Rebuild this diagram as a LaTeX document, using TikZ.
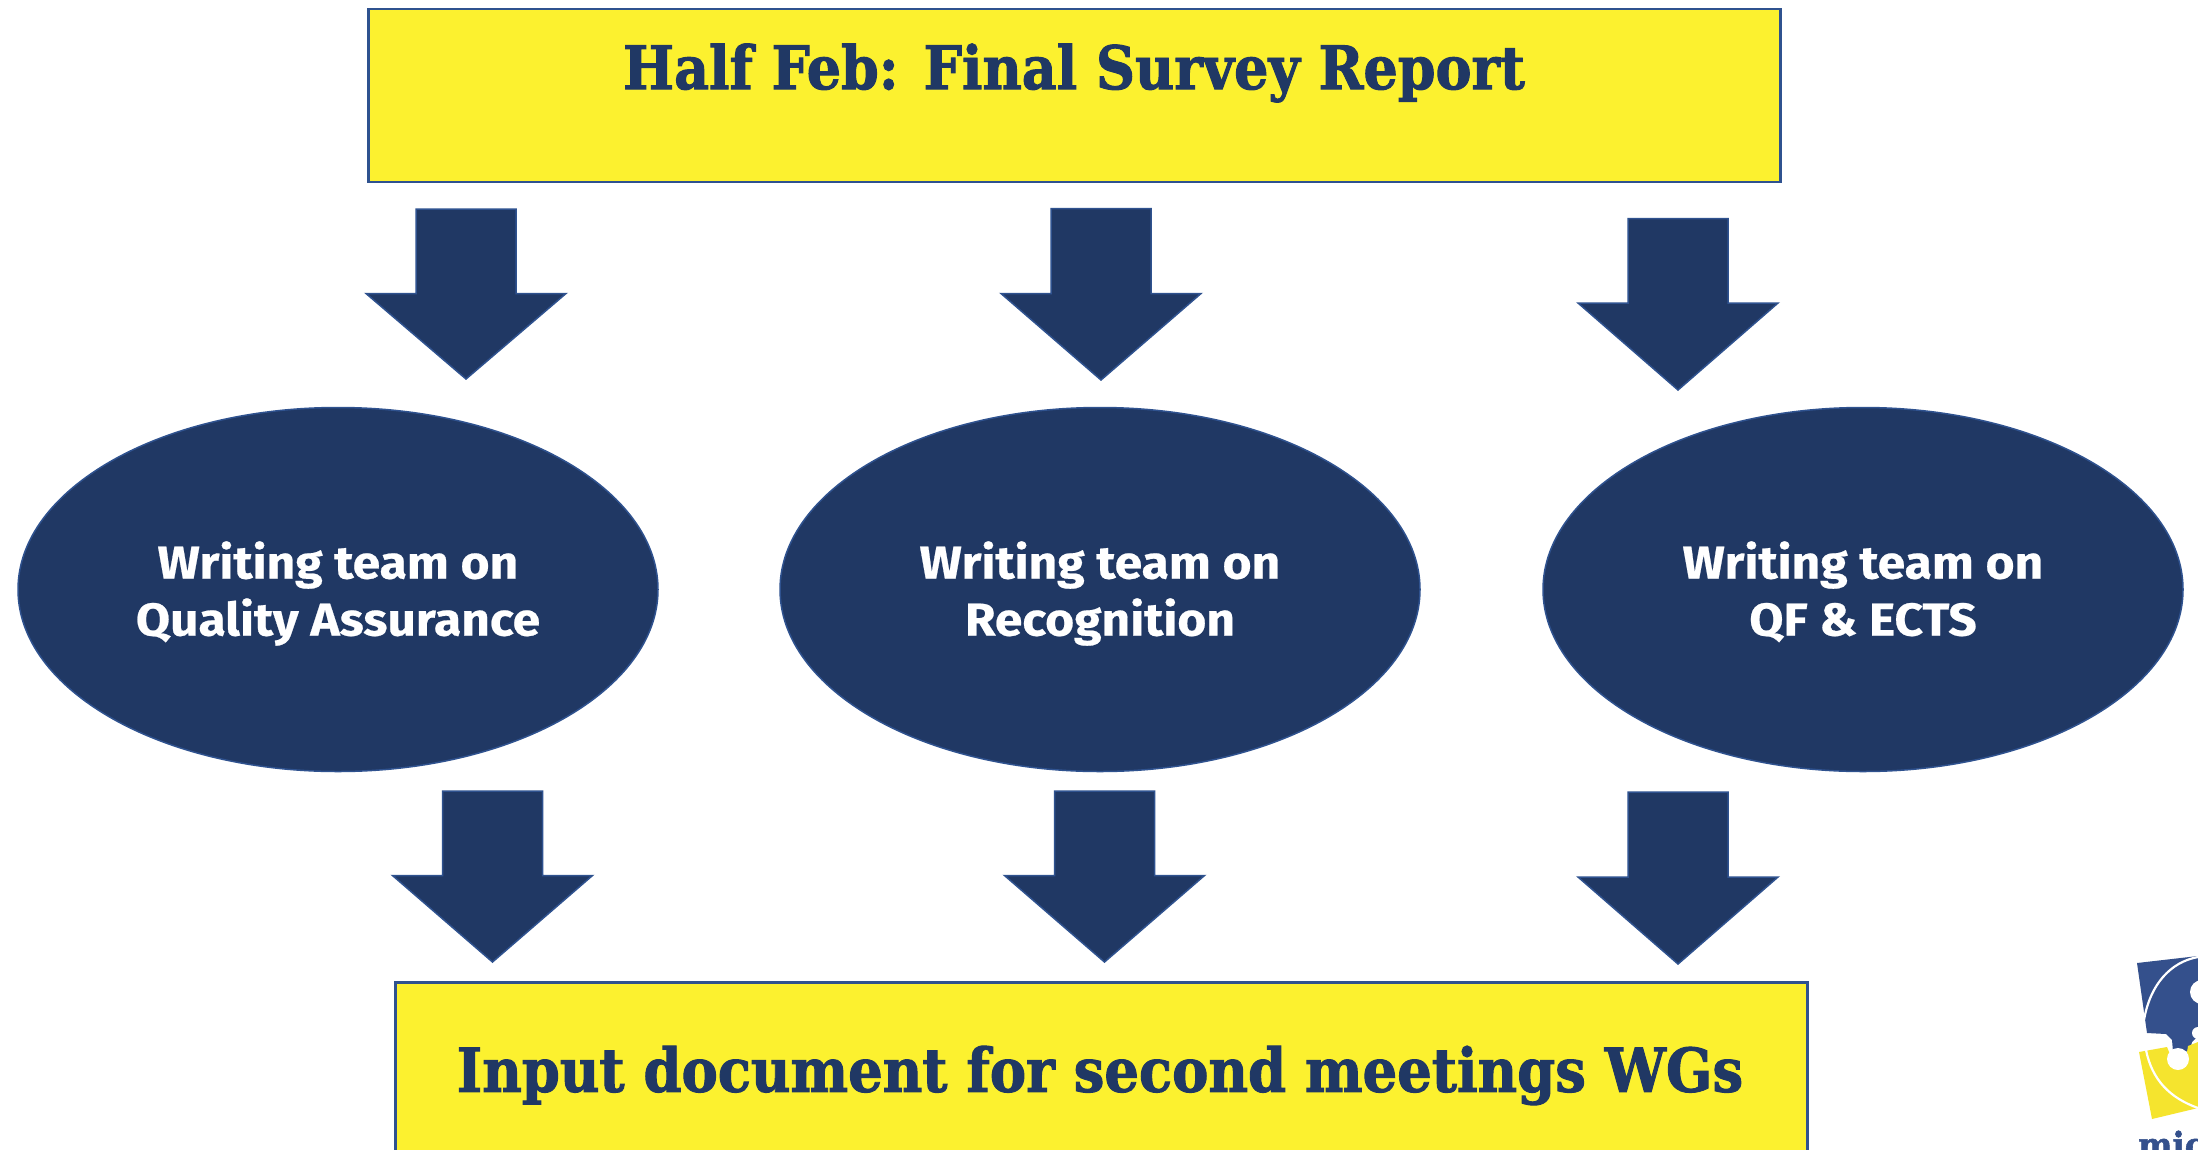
\documentclass[tikz,border=0pt]{standalone}
\usepackage{fontspec}
\setmainfont{DejaVu Serif Condensed}
\newfontfamily\slabfont[BoldFont={DejaVu Serif Condensed Bold},BoldFeatures={FakeBold=1.6}]{DejaVu Serif Condensed}
\newfontfamily\humanfont[FakeStretch=1.08,BoldFeatures={FakeStretch=1.08,FakeBold=0.5}]{Fira Sans}
\definecolor{navy}{HTML}{203864}
\definecolor{edgeblue}{HTML}{2F528F}
\definecolor{signyellow}{HTML}{FCF12F}
\definecolor{logoblue}{HTML}{34508C}
\definecolor{logoyellow}{HTML}{F5E42E}
\tikzset{
  x=1pt,y=-1pt,
  banner/.style={draw=edgeblue,fill=signyellow,line width=2.6pt,rectangle,inner sep=0pt,anchor=north west},
  team/.style={draw=edgeblue,fill=navy,line width=1.5pt,ellipse,inner sep=0pt,minimum width=640pt,minimum height=364pt},
  teamtext/.style={text=white,align=center,inner sep=0pt,yshift=-4pt,font=\humanfont\bfseries\fontsize{46}{57}\selectfont},
  blockarrow/.style={draw=edgeblue,fill=navy,line width=1.5pt,line join=miter},
  bannertext/.style={text=navy,font=\slabfont\bfseries,inner sep=0pt},
}
\usetikzlibrary{shapes.geometric}
% centre x, top, shoulder y, tip y
\newcommand{\blockdown}[4]{\draw[blockarrow] (#1-50,#2) -- (#1+50,#2) -- (#1+50,#3) -- (#1+100,#3) -- (#1,#4) -- (#1-100,#3) -- (#1-50,#3) -- cycle;}
\newcommand{\lineheight}{\vphantom{Qgy}}
\begin{document}
\begin{tikzpicture}
\useasboundingbox (0,0) rectangle (2198,1149);
\clip (0,0) rectangle (2198,1149);
\fill[white] (0,0) rectangle (2198,1149);
% top banner
\node[banner,minimum width=1412pt,minimum height=173pt] (top) at (367,7.5) {};
\node[bannertext,font=\slabfont\bfseries\fontsize{60}{70}\selectfont] (toptext) at (1074,73) {Half Feb: Final Survey Report};
% bottom banner
\node[banner,minimum width=1412pt,minimum height=190pt] (bottom) at (394,981) {};
\node[bannertext,font=\slabfont\bfseries\fontsize{60.5}{70}\selectfont] (bottomtext) at (1100,1075.5) {Input document for second meetings WGs};
% ellipses
\node[team] (qa) at (338,589.5) {};
\node[teamtext] (qatext) at (qa.center) {\lineheight Writing team on\\\lineheight Quality Assurance};
\node[team] (rec) at (1100,589.5) {};
\node[teamtext] (rectext) at (rec.center) {\lineheight Writing team on\\\lineheight Recognition};
\node[team] (qf) at (1863,589.5) {};
\node[teamtext] (qftext) at (qf.center) {\lineheight Writing team on\\\lineheight QF \& ECTS};
% arrows
\blockdown{466}{209}{293.5}{379}
\blockdown{1101}{208.5}{293.5}{380}
\blockdown{1678}{218.5}{303}{390}
\blockdown{492.5}{791}{875.5}{962}
\blockdown{1104.5}{791}{875.5}{962}
\blockdown{1678}{792}{877}{964}
% logo
\fill[logoblue] (2137,963) -- (2198,956) -- (2198,1036) -- (2192,1042) -- (2190,1050) -- (2180,1054) -- (2173,1052) -- (2172,1040) -- (2166,1034) -- (2147,1033) -- cycle;
\draw[white,line width=2.2pt] (2198,957) .. controls (2170,962) and (2150,985) .. (2144,1020);
\fill[white] (2202,992) circle (12);
\fill[white] (2198,1033) circle (6);
\fill[logoyellow] (2139,1052) -- (2167,1047) -- (2169,1052) -- (2178,1062) -- (2186,1058) -- (2188,1046) -- (2198,1042) -- (2198,1108) -- (2152,1119) -- cycle;
\fill[white] (2178,1059) circle (11);
\draw[white,line width=2.2pt] (2146,1050) .. controls (2152,1080) and (2170,1098) .. (2198,1108);
\node[text=logoblue,font=\slabfont\bfseries\fontsize{36}{40}\selectfont,anchor=base west,inner sep=0pt] (logotext) at (2138,1158) {mic};
\end{tikzpicture}
\end{document}
